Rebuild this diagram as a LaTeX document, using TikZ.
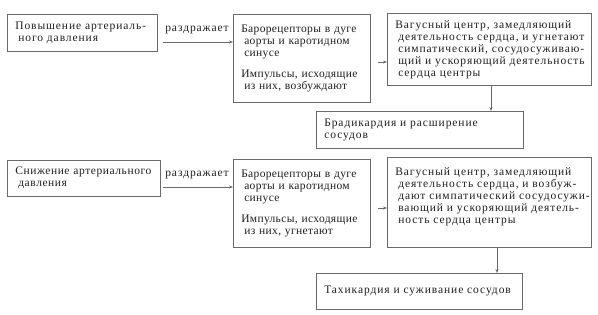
\documentclass[tikz,border=0pt]{standalone}
\usepackage{fontspec}
\setmainfont{Liberation Serif}[LetterSpace=8]
\newfontfamily\tightfont{Liberation Serif}[LetterSpace=3]
\newfontfamily\midfont{Liberation Serif}[LetterSpace=5]
\usetikzlibrary{arrows.meta}
\definecolor{linegray}{HTML}{6A6A6A}
\definecolor{textc}{HTML}{1E1E1E}
\newcommand\oneline[1]{\mbox{#1}}
\newcommand\jl[1]{\makebox[\hsize][s]{#1}}
\newcommand\hg[1]{\hspace*{3pt}\mbox{#1}}
\newcommand\hj[1]{\hspace*{3pt}\makebox[\dimexpr\hsize-3pt\relax][s]{#1}}
\tikzset{
  box/.style={draw=linegray, line width=0.6pt, anchor=north west,
    inner xsep=8pt, inner ysep=0pt, align=left, text=textc,
    font=\fontsize{11.5}{12}\selectfont},
  lbl/.style={text=textc, font=\fontsize{11.5}{12}\selectfont, inner sep=0pt},
  arr/.style={draw=linegray, line width=0.6pt, -{Stealth[length=4pt,width=3pt]}}
}
\begin{document}
\begin{tikzpicture}[x=1pt,y=-1pt]
\useasboundingbox (0,0) rectangle (598,315);
% upper chain
\node[box, text width=134pt, minimum height=37pt] (A1) at (7,14)
  {\jl{Повышение артериаль-}\\ \hg{ного давления}};
\node[box, text width=121pt, minimum height=88pt, font=\fontsize{11.5}{12}\tightfont] (B1) at (233,14)
  {\jl{Барорецепторы в дуге}\\ \hg{аорты и каротидном}\\ \hg{синусе}\\[9pt]
   \jl{Импульсы, исходящие}\\ \hg{из них, возбуждают}};
\node[box, text width=188pt, minimum height=72pt] (C1) at (387,13)
  {\jl{Вагусный центр, замедляющий}\\ \hj{деятельность сердца, и угнетают}\\
   \hj{симпатический, сосудосуживаю-}\\ \hj{щий и ускоряющий деятельность}\\
   \hg{сердца центры}};
\node[box, text width=191pt, minimum height=37pt] (D1) at (316,111)
  {\oneline{Брадикардия и расширение}\\ \oneline{сосудов}};
\node[lbl] (R1) at (197,30) {раздражает};
\coordinate (s1) at (163,42);
\coordinate (s2) at (378,62);
\coordinate (v1) at (491,0);
\draw[arr] (s1) -- (s1 -| B1.west);
\draw[arr] (s2) -- (s2 -| C1.west);
\draw[arr] (v1 |- C1.south) -- (v1 |- D1.north);
% lower chain
\node[box, text width=137pt, minimum height=36pt, font=\fontsize{11.5}{12}\midfont] (A2) at (7,160)
  {\oneline{Снижение артериального}\\ \hg{давления}};
\node[box, text width=121pt, minimum height=88pt, font=\fontsize{11.5}{12}\tightfont] (B2) at (233,159)
  {\jl{Барорецепторы в дуге}\\ \hg{аорты и каротидном}\\ \hg{синусе}\\[9pt]
   \jl{Импульсы, исходящие}\\ \hg{из них, угнетают}};
\node[box, text width=188pt, minimum height=90pt] (C2) at (387,157)
  {\oneline{Вагусный центр, замедляющий}\\ \hj{деятельность сердца, и возбуж-}\\
   \hj{дают симпатический сосудосужи-}\\ \hj{вающий и ускоряющий деятель-}\\
   \hg{ность сердца центры}\\[0pt]\rule{0pt}{10pt}};
\node[box, text width=190pt, minimum height=36pt] (D2) at (316,273)
  {\oneline{Тахикардия и суживание сосудов}};
\node[lbl] (R2) at (197,175) {раздражает};
\coordinate (s3) at (163,187);
\coordinate (s4) at (378,208);
\coordinate (v2) at (497,0);
\draw[arr] (s3) -- (s3 -| B2.west);
\draw[arr] (s4) -- (s4 -| C2.west);
\draw[arr] (v2 |- C2.south) -- (v2 |- D2.north);
\end{tikzpicture}
\end{document}
